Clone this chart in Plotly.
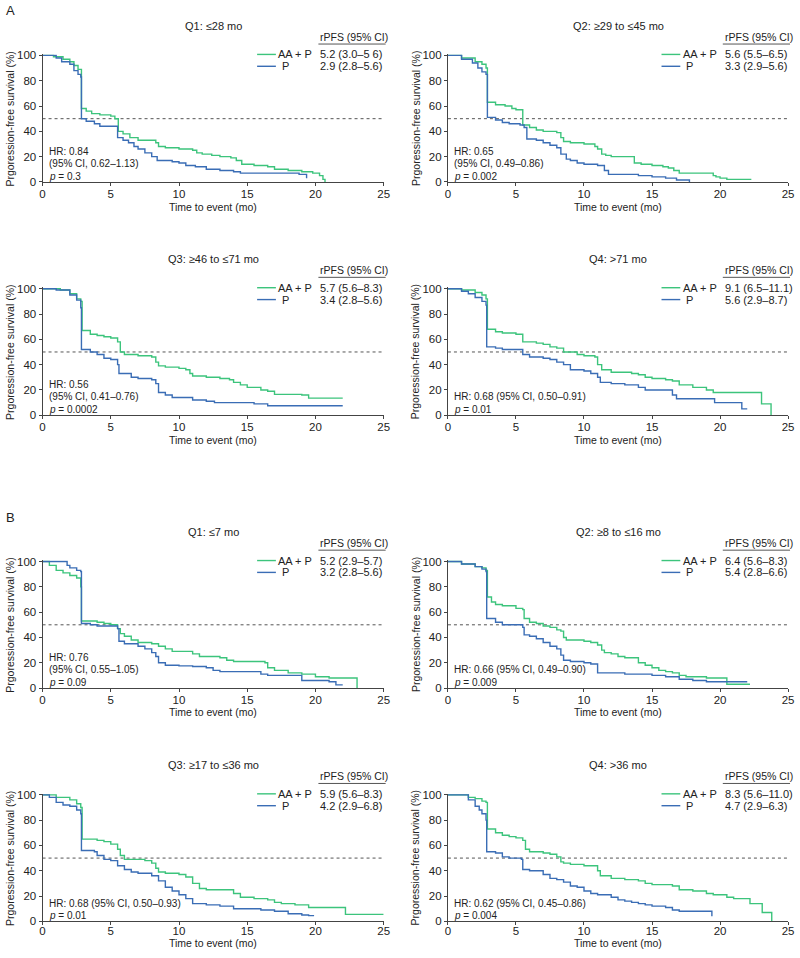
import plotly.graph_objects as go

W, H = 800, 958
GREEN = "#3cc47c"
BLUE = "#3a6db5"
AXC = "#444444"
TXT = "#222222"
FONT = "Liberation Sans, Arial, Helvetica, sans-serif"

X_TICKS = [0, 5, 10, 15, 20, 25]
Y_TICKS = [0, 20, 40, 60, 80, 100]
X_MAX = 25
MEDIAN = 50

TITLES = ["Q1: ≤28 mo", "Q2: ≥29 to ≤45 mo", "Q3: ≥46 to ≤71 mo", "Q4: >71 mo",
          "Q1: ≤7 mo", "Q2: ≥8 to ≤16 mo", "Q3: ≥17 to ≤36 mo", "Q4: >36 mo"]
RPFS_AAP = ["5.2 (3.0–5 6)", "5.6 (5.5–6.5)", "5.7 (5.6–8.3)", "9.1 (6.5–11.1)",
            "5.2 (2.9–5.7)", "6.4 (5.6–8.3)", "5.9 (5.6–8.3)", "8.3 (5.6–11.0)"]
RPFS_P = ["2.9 (2.8–5.6)", "3.3 (2.9–5.6)", "3.4 (2.8–5.6)", "5.6 (2.9–8.7)",
          "3.2 (2.8–5.6)", "5.4 (2.8–6.6)", "4.2 (2.9–6.8)", "4.7 (2.9–6.3)"]
HR_LINES = [
    ["HR: 0.84", "(95% CI, 0.62–1.13)", "<i>p</i> = 0.3"],
    ["HR: 0.65", "(95% CI, 0.49–0.86)", "<i>p</i> = 0.002"],
    ["HR: 0.56", "(95% CI, 0.41–0.76)", "<i>p</i> = 0.0002"],
    ["HR: 0.68 (95% CI, 0.50–0.91)", "<i>p</i> = 0.01"],
    ["HR: 0.76", "(95% CI, 0.55–1.05)", "<i>p</i> = 0.09"],
    ["HR: 0.66 (95% CI, 0.49–0.90)", "<i>p</i> = 0.009"],
    ["HR: 0.68 (95% CI, 0.50–0.93)", "<i>p</i> = 0.01"],
    ["HR: 0.62 (95% CI, 0.45–0.86)", "<i>p</i> = 0.004"],
]

# Kaplan-Meier step data: (time in months, survival %)
a1_aap = [(0,100),(0.8,99),(1.5,97),(2.0,95),(2.3,92),(2.6,89),(2.85,58),(3.2,56),(3.6,54),(4.2,53),(5.0,52),(5.3,50),(5.55,40),(5.9,38),(6.4,35),(7.0,33),(8.3,31),(8.5,28),(9.0,27),(10.0,26),(11.0,25),(11.3,23),(11.7,22),(12.4,21),(13.0,20),(13.8,19),(14.2,17),(14.6,14),(15.5,13),(16.5,12),(17.0,10),(18.0,9),(19.0,8),(19.8,7),(20.3,5),(20.55,2),(20.7,0)]
a1_p = [(0,100),(1.0,98),(1.4,95),(2.0,93),(2.3,88),(2.6,85),(2.8,83),(2.85,50),(3.2,48),(3.8,46),(4.2,44),(5.5,35),(5.9,33),(6.3,31),(6.7,28),(7.0,26),(7.5,23),(8.0,20),(8.4,17),(9.5,16),(10.0,15),(10.5,13),(11.2,12),(12.0,10),(13.0,9),(14.0,8),(14.5,7),(18.8,6),(19.35,3)]
a2_aap = [(0,100),(1.0,98),(2.0,95),(2.5,93),(2.8,90),(2.9,63),(3.5,61),(4.2,60),(4.7,58),(5.0,57),(5.5,45),(6.0,43),(6.5,41),(7.0,40),(8.0,39),(8.3,35),(8.5,32),(9.0,31),(10.0,30),(10.8,28),(11.0,26),(11.3,22),(11.6,21),(12.0,20),(13.7,15),(14.2,14),(15.0,13),(15.8,12),(16.2,11),(16.6,9),(17.0,7),(19.5,5),(19.7,4),(20.0,3),(20.5,2),(22.3,2)]
a2_p = [(0,100),(1.0,97),(1.8,94),(2.2,90),(2.5,87),(2.8,85),(2.9,51),(3.5,49),(4.0,47),(4.5,46),(5.3,45),(5.6,43),(5.8,34),(6.5,33),(7.0,31),(7.5,29),(8.0,27),(8.3,22),(8.7,18),(9.0,17),(9.5,15),(10.0,14),(11.0,13),(11.5,9),(11.8,6),(13.0,6),(14.0,5),(15.0,4),(16.0,3),(16.8,1.5),(17.75,0)]
a3_aap = [(0,100),(1.3,99),(2.0,96),(2.5,92),(2.8,90),(2.9,67),(3.5,64),(4.0,63),(4.5,62),(5.0,61),(5.5,58),(5.7,50),(6.0,48),(7.0,47),(8.0,46),(8.3,42),(8.5,39),(9.0,38),(10.0,37),(10.5,36),(10.8,33),(11.0,31),(12.0,30),(13.0,29),(13.7,28),(14.0,26),(14.5,24),(15.0,22),(16.0,20),(16.5,19),(17.0,16.5),(19.0,16),(19.5,13.5),(22.0,13.5)]
a3_p = [(0,100),(1.0,99),(2.0,95),(2.5,91),(2.8,85),(2.85,52),(3.5,50),(4.0,48),(4.5,45),(5.0,44),(5.5,40),(5.6,33),(6.5,30),(7.0,29),(8.0,28),(8.3,25),(8.5,18),(9.0,16),(9.5,14),(10.5,14),(11.0,12),(12.0,11),(12.6,10),(15.0,10),(15.5,9),(16.5,7.5),(22.0,7.5)]
a4_aap = [(0,100),(1.0,99),(2.0,97),(2.5,95),(2.8,92),(2.9,68),(3.5,66),(4.0,65),(5.0,64),(5.5,58),(6.5,57),(7.0,56),(7.5,54),(8.0,53),(8.5,50),(9.5,48),(10.0,47),(10.8,46),(11.0,40),(11.3,36),(12.0,34),(13.5,33),(14.0,32),(14.5,30),(15.0,29),(16.0,28),(16.5,27),(17.0,24),(18.0,22),(19.0,20),(19.5,18),(23.05,9),(23.75,0)]
a4_p = [(0,100),(1.0,98),(1.5,96),(2.0,93),(2.5,90),(2.8,87),(2.85,54),(3.5,53),(4.0,52),(5.5,48),(6.0,46),(7.0,45),(7.5,44),(8.0,42),(8.5,40),(9.0,36),(10.0,35),(10.5,33),(11.0,30),(11.2,26),(12.0,25),(13.0,24),(14.0,22),(14.5,20),(16.5,16),(16.8,13),(19.6,10),(21.6,5),(22.0,5)]
b1_aap = [(0,100),(0.5,97),(1.0,93),(1.5,91),(2.0,89),(2.5,87),(2.8,80),(2.85,53),(4.0,52),(4.5,51),(5.0,50),(5.5,47),(5.7,43),(6.0,41),(6.5,38),(7.0,36),(8.0,35),(8.5,33),(9.0,31),(9.5,29),(10.5,29),(11.0,27),(11.5,25),(13.0,24),(13.5,22),(14.0,21),(16.3,20),(16.5,16),(17.0,14),(18.0,12),(19.0,11),(20.0,9),(21.0,8),(23.05,0)]
b1_p = [(0,100),(1.4,100),(1.8,97),(2.0,95),(2.5,93),(2.8,92),(2.85,51),(3.5,50),(4.0,49),(5.5,47),(5.6,37),(6.0,35),(7.0,33),(7.5,31),(8.0,28),(8.3,25),(8.5,20),(9.0,18),(10.0,17.5),(11.0,17),(12.0,16),(12.5,14),(13.0,13),(15.0,13),(16.0,11),(16.5,10),(18.5,10),(19.0,6),(21.0,5),(21.5,2.5),(22.0,2.5)]
b2_aap = [(0,100),(1.0,98),(2.0,96),(2.5,95),(2.8,93),(2.9,72),(3.2,68),(3.5,66),(4.0,65),(5.0,63),(5.5,62),(5.6,55),(6.0,52),(6.5,51),(7.0,49),(7.5,48),(8.0,46),(8.3,45),(8.5,40),(8.7,38),(10.0,37),(10.5,36),(11.0,34),(11.3,30),(11.5,28),(12.0,27),(12.5,25),(13.0,24),(14.0,20),(14.5,18),(15.0,16),(15.5,14),(16.0,13),(16.5,12),(17.0,10),(17.5,9),(19.0,8),(20.5,3),(22.2,3)]
b2_p = [(0,100),(1.0,98),(2.0,96),(2.5,94),(2.8,92),(2.85,55),(3.5,52),(4.0,50),(5.5,48),(5.6,42),(6.0,41),(6.5,39),(7.0,36),(7.5,33),(8.0,31),(8.3,26),(8.5,22),(9.0,21),(10.0,20),(10.5,19),(11.0,12),(12.0,12),(13.0,11),(15.0,10),(16.0,9),(17.0,7),(18.0,6),(19.0,5),(22.0,5)]
b3_aap = [(0,100),(1.0,98),(2.0,96),(2.5,93),(2.8,90),(2.9,65),(4.0,64),(4.5,63),(5.0,61),(5.5,57),(5.7,52),(6.0,49),(7.5,48),(8.0,46),(8.3,42),(8.5,39),(9.0,38),(10.0,37),(10.5,35),(11.0,30),(11.5,26),(12.0,25),(13.8,25),(14.0,22),(14.5,19),(15.5,18),(16.5,17),(17.0,15),(17.5,14),(18.5,13),(19.5,11),(22.2,5.5),(25.0,5.5)]
b3_p = [(0,100),(0.5,98),(1.0,94),(1.5,92),(2.0,91),(2.5,88),(2.8,85),(2.85,56),(3.8,55),(4.0,52),(4.5,49),(5.0,48),(5.5,44),(6.0,41),(6.5,39),(7.0,38),(8.0,36),(8.5,32),(9.0,27),(9.5,24),(10.0,21),(10.5,18),(11.0,14),(12.0,13),(13.0,12),(14.0,10),(16.0,9),(17.0,8),(18.0,6),(19.0,5),(19.5,4.5),(19.9,4.5)]
b4_aap = [(0,100),(1.0,100),(1.5,98),(2.0,97),(2.5,95),(2.8,94),(2.9,73),(3.5,70),(4.0,68),(4.5,67),(5.0,66),(5.5,64),(5.7,57),(6.0,55),(7.0,54),(7.5,53),(8.0,51),(8.3,47),(8.5,46),(9.0,45),(10.0,44),(11.0,40),(11.2,36),(12.0,34),(13.0,33),(14.0,32),(14.5,30),(15.0,29),(16.5,28),(17.0,25),(18.0,24),(19.0,22),(19.5,21),(20.5,19),(21.0,18),(22.2,14),(23.1,7),(23.8,0)]
b4_p = [(0,100),(1.1,100),(1.5,96),(2.0,91),(2.3,88),(2.5,85),(2.8,80),(2.85,55),(3.5,54),(4.0,51),(4.5,50),(5.4,49),(5.5,41),(6.0,40),(7.0,37),(7.5,34),(8.0,33),(8.5,31),(9.0,28),(9.5,27),(10.0,24),(10.5,22),(11.0,21),(12.0,19),(12.5,17),(13.0,16),(13.5,15),(14.0,14),(14.5,13),(15.0,12),(16.0,11),(16.5,9),(17.0,8),(19.4,4)]

CURVES_AAP = [a1_aap, a2_aap, a3_aap, a4_aap, b1_aap, b2_aap, b3_aap, b4_aap]
CURVES_P = [a1_p, a2_p, a3_p, a4_p, b1_p, b2_p, b3_p, b4_p]

# layout in pixels
COL_L = [40, 450]
COL_R = [385, 794]
ROW_T = [51, 287, 563, 799]
XTITLE_OFF = [25, 25, 24, 22]
XLABEL_STANDOFF = [-2, -2, -2, -4]
PH = 128
Y_TOP = 101  # small headroom so 100% line is not clipped


def px(x):
    return x / W


def py(y):
    return 1 - y / H


fig = go.Figure()
annotations = []
shapes = []


def ann(x, y, text, xanchor="left", size=10.5, angle=0, yanchor="middle"):
    annotations.append(dict(x=px(x), y=py(y), xref="paper", yref="paper", text=text,
                            showarrow=False, xanchor=xanchor, yanchor=yanchor,
                            textangle=angle, font=dict(size=size, color=TXT, family=FONT)))


def hline(x0, x1, y, color, width=1.3):
    shapes.append(dict(type="line", xref="paper", yref="paper", x0=px(x0), x1=px(x1),
                       y0=py(y), y1=py(y), line=dict(color=color, width=width)))


for i in range(8):
    row, col = i // 2, i % 2
    L, R, T = COL_L[col], COL_R[col], ROW_T[row]
    B = T + PH
    top_px = B - PH * Y_TOP / 100
    k = "" if i == 0 else str(i + 1)
    xa, ya = "x" + k, "y" + k
    common = dict(showline=True, linecolor=AXC, linewidth=1, ticks="outside", ticklen=3,
                  tickwidth=1, tickcolor=AXC, showgrid=False, zeroline=False,
                  tickfont=dict(size=11.5, color=TXT, family=FONT))
    fig.layout["xaxis" + k] = dict(domain=[px(L), px(R)], range=[0, X_MAX], tickvals=X_TICKS,
                                   anchor=ya, ticklabelstandoff=XLABEL_STANDOFF[row], **common)
    fig.layout["yaxis" + k] = dict(domain=[py(B), py(top_px)], range=[0, Y_TOP],
                                   tickvals=Y_TICKS, anchor=xa, **common)

    fig.add_trace(go.Scatter(x=[0, X_MAX], y=[MEDIAN, MEDIAN], mode="lines",
                             line=dict(color="#555555", width=1, dash="dot"),
                             xaxis=xa, yaxis=ya, showlegend=False, hoverinfo="skip"))
    for data, color in ((CURVES_AAP[i], GREEN), (CURVES_P[i], BLUE)):
        fig.add_trace(go.Scatter(x=[d[0] for d in data], y=[d[1] for d in data],
                                 mode="lines", line=dict(color=color, width=1.4, shape="hv"),
                                 xaxis=xa, yaxis=ya, showlegend=False))

    # title
    ann((L + R) / 2, T - 30, TITLES[i], xanchor="center", size=11)
    # axis titles
    ann((L + R) / 2, B + XTITLE_OFF[row], "Time to event (mo)", xanchor="center", size=10.5)
    ann(L - 33, (T + B) / 2, "Prgoression-free survival (%)", xanchor="center", size=10.5, angle=-90)
    # legend block
    ann(R - 66, T - 19, "rPFS (95% CI)", size=10.5)
    hline(R - 66, R + 2, T - 11.5, "#555555", width=1)
    hline(R - 128, R - 109, T - 1, GREEN, width=1.4)
    ann(R - 70, T - 1, "AA + P", xanchor="right", size=11)
    ann(R - 66, T - 1, RPFS_AAP[i], size=11)
    hline(R - 128, R - 109, T + 11, BLUE, width=1.4)
    ann(R - 105, T + 11, "P", size=11)
    ann(R - 66, T + 11, RPFS_P[i], size=11)
    # HR text
    offs = [6, 18.5, 31]
    lines = HR_LINES[i]
    for j, txt in enumerate(reversed(lines)):
        ann(L + 4, B - offs[j], txt, size=10)

ann(1, 6, "A", size=13)
ann(1, 518, "B", size=13)

fig.update_layout(width=W, height=H, margin=dict(l=0, r=0, t=0, b=0),
                  paper_bgcolor="white", plot_bgcolor="white",
                  annotations=annotations, shapes=shapes,
                  font=dict(family=FONT, color=TXT))
fig.write_html("out.html", config={"displayModeBar": False},
               post_script="document.body.style.margin='0px';")
